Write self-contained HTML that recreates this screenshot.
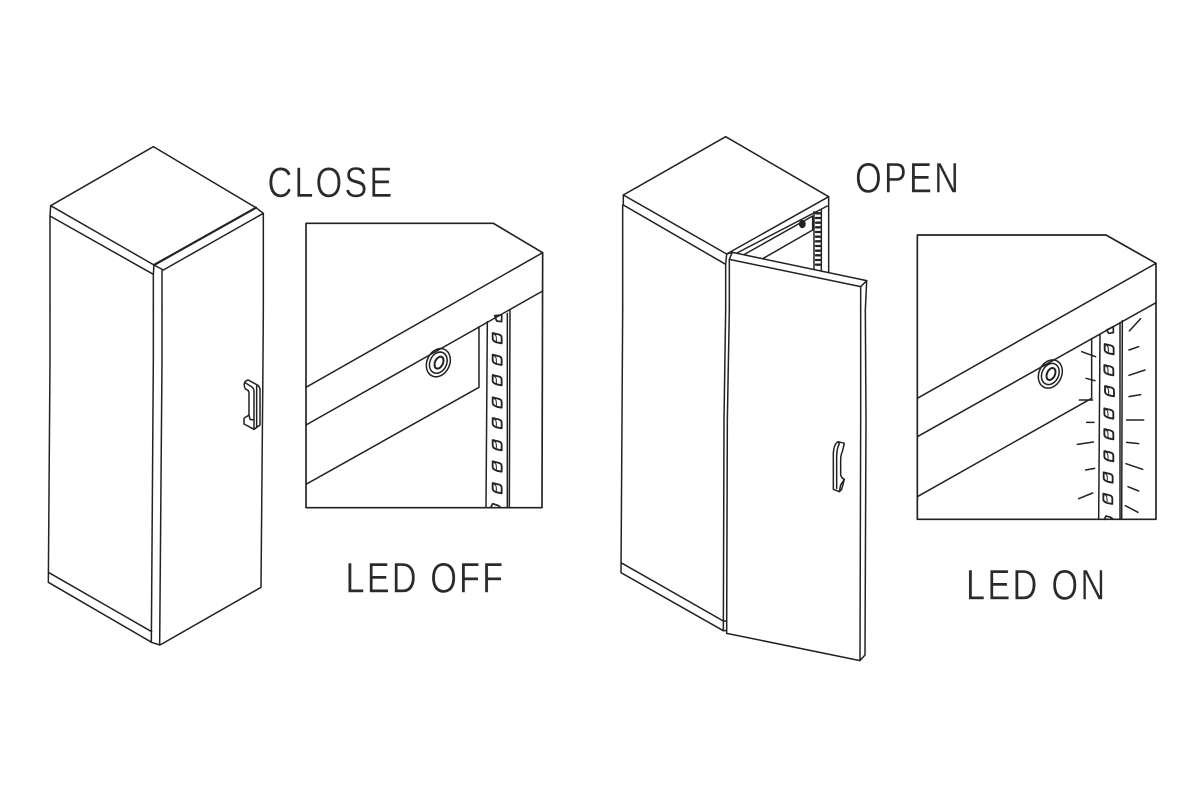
<!DOCTYPE html>
<html><head><meta charset="utf-8"><style>
html,body{margin:0;padding:0;background:#fff;width:1200px;height:800px;overflow:hidden}
svg{display:block}
.l{fill:none;stroke:#222;stroke-width:4.5;stroke-linejoin:round;stroke-linecap:round}
.w{fill:#fff}
.t{font-family:"Liberation Sans",sans-serif;font-size:43px;fill:#2a2a2a;stroke:#fff;stroke-width:.5}
</style></head><body>
<svg width="1200" height="800" viewBox="0 0 1200 800" xmlns="http://www.w3.org/2000/svg">
<defs>
<g id="s"><path d="M-14 -15L6 -10Q13 -8 13 0V16L-2 13Q-14 9 -14 2Z" stroke-width="5.5"/><path d="M-14 -15L-6 -9Q-3 -6 -3 0V13" stroke-width="3"/></g>
</defs>
<rect width="1200" height="800" fill="#fff"/>

<!-- closed cabinet top -->
<g transform="translate(30,140) scale(.33333)" class="l">
<path d="M370 20L62 197L372 375L678 203Z"/>
<path d="M62 197L60 228L370 403L372 375"/>
<path d="M372 375L678 203" stroke-width="6.5"/>
<path d="M678 203L700 220L400 390L372 375"/>
<path d="M60 228V510M370 403V510M396 392V510M700 220V510"/>
</g>
<!-- closed cabinet bottom -->
<g transform="translate(30,360) scale(.33333)" class="l">
<path d="M60 -150V0L55 667L365 847M57 638L365 815"/>
<path d="M370 -150V0L364 847L390 855L693 682L699 0L700 -150M396 -150V0L389 855"/>
<path d="M643 70Q645 62 655 60L682 75Q690 80 690 90V195L672 208L642 192V178Q642 172 650 170L657 165V100Q657 90 648 88Q642 85 643 70Z"/>
<path d="M645 68L664 80Q672 84 672 94V208M680 78V202M657 165L660 178L672 180"/>
</g>

<!-- LED off detail -->
<g transform="translate(300,215) scale(.33333)" class="l">
<path d="M18 25H580L728 113L726 878H18Z" stroke-width="5"/>
<path d="M18 517L728 113M18 630L728 228M18 808L537 517V335"/>
<path d="M562 320L558 878M622 295V878M630 287L628 878"/>
<use href="#s" x="592" y="369"/><use href="#s" x="592" y="434"/><use href="#s" x="592" y="495"/><use href="#s" x="592" y="562"/><use href="#s" x="592" y="624"/><use href="#s" x="592" y="690"/><use href="#s" x="592" y="754"/><use href="#s" x="592" y="819"/>
<path d="M584 302L605 300V320L590 318Z" stroke-width="5"/>
<path d="M572 878L578 866L596 872L602 878" stroke-width="5"/>
<ellipse cx="415" cy="443" rx="34" ry="44" transform="rotate(25 415 443)"/>
<ellipse cx="415" cy="443" rx="25" ry="33" transform="rotate(25 415 443)"/>
<ellipse cx="417" cy="443" rx="12" ry="19" transform="rotate(25 417 443)" stroke-width="6"/>
</g>

<!-- open cabinet top -->
<g transform="translate(610,130) scale(.33333)" class="l">
<path d="M347 20L40 195L350 372L656 200Z"/>
<path d="M40 195V225L347 403L350 372M38 225V540M347 403V540"/>
<path d="M656 200V425M652 228L375 372M350 372L367 367"/>
<path d="M608 258V300L460 385M608 258L400 375"/>
<path d="M612 245V420M634 240V425"/>
<path d="M618 250H630M618 264H630M618 278H630M618 292H630M618 306H630M618 320H630M618 334H630M618 348H630M618 362H630M618 376H630M618 390H630M618 404H630" stroke-width="7"/>
<ellipse cx="577" cy="282" rx="8" ry="10" fill="#222"/>
<path class="w" d="M367 367L770 452L752 470L358 388Z"/>
<path d="M358 388V540M752 470V540M770 452L766 540"/>
</g>
<!-- open cabinet bottom -->
<g transform="translate(610,420) scale(.33333)" class="l">
<path d="M38 -330L36 0L33 458L340 632M33 428L340 603M340 603H350"/>
<path d="M347 -330L342 0L340 632L350 632M358 -330L352 0L350 640L750 722L765 705L768 0L766 -330M752 -330V0L750 722"/>
<path d="M670 208V100Q672 70 685 65L703 70L697 95Q692 105 692 120V165Q695 175 703 178L695 208L688 215Z"/>
<path d="M685 65L688 72Q680 85 680 110V205M688 215L692 195L703 178"/>
</g>

<!-- LED on detail -->
<g transform="translate(910,230) scale(.33333)" class="l">
<path d="M22 15H588L738 100V868H22Z" stroke-width="5"/>
<path d="M22 505L738 100M22 620L738 218M22 800L545 505V325"/>
<path d="M570 315L566 868M630 278V868M637 272L635 868"/>
<use href="#s" x="598" y="357"/><use href="#s" x="597" y="420"/><use href="#s" x="599" y="483"/><use href="#s" x="597" y="550"/><use href="#s" x="597" y="612"/><use href="#s" x="597" y="678"/><use href="#s" x="595" y="742"/><use href="#s" x="594" y="806"/>
<path d="M590 300L610 290V308L596 310Z" stroke-width="5"/>
<path d="M583 868L588 858L602 862L610 868" stroke-width="5"/>
<ellipse cx="421" cy="432" rx="34" ry="44" transform="rotate(25 421 432)"/>
<ellipse cx="421" cy="432" rx="25" ry="33" transform="rotate(25 421 432)"/>
<ellipse cx="423" cy="432" rx="12" ry="19" transform="rotate(25 423 432)" stroke-width="6"/>
<path d="M658 303L692 266M657 360L686 350M657 436L705 420M657 500L692 494M650 570H701M650 637L686 641M648 701L698 718M654 770L686 783M646 827L684 847"/>
<path d="M515 365L557 380M528 445L555 452M508 510H548M530 577H552M502 643L550 636M527 720L554 715M506 806L548 789"/>
</g>

<g transform="translate(267.5,197) scale(.8,1)"><text class="t" x="0" y="0" textLength="156" lengthAdjust="spacing">CLOSE</text></g>
<g transform="translate(345.5,592.5) scale(.8,1)"><text class="t" x="0" y="0" textLength="197" lengthAdjust="spacing">LED OFF</text></g>
<g transform="translate(855,192.5) scale(.8,1)"><text class="t" x="0" y="0" textLength="130" lengthAdjust="spacing">OPEN</text></g>
<g transform="translate(966,599.5) scale(.8,1)"><text class="t" x="0" y="0" textLength="174" lengthAdjust="spacing">LED ON</text></g>
</svg>
</body></html>
